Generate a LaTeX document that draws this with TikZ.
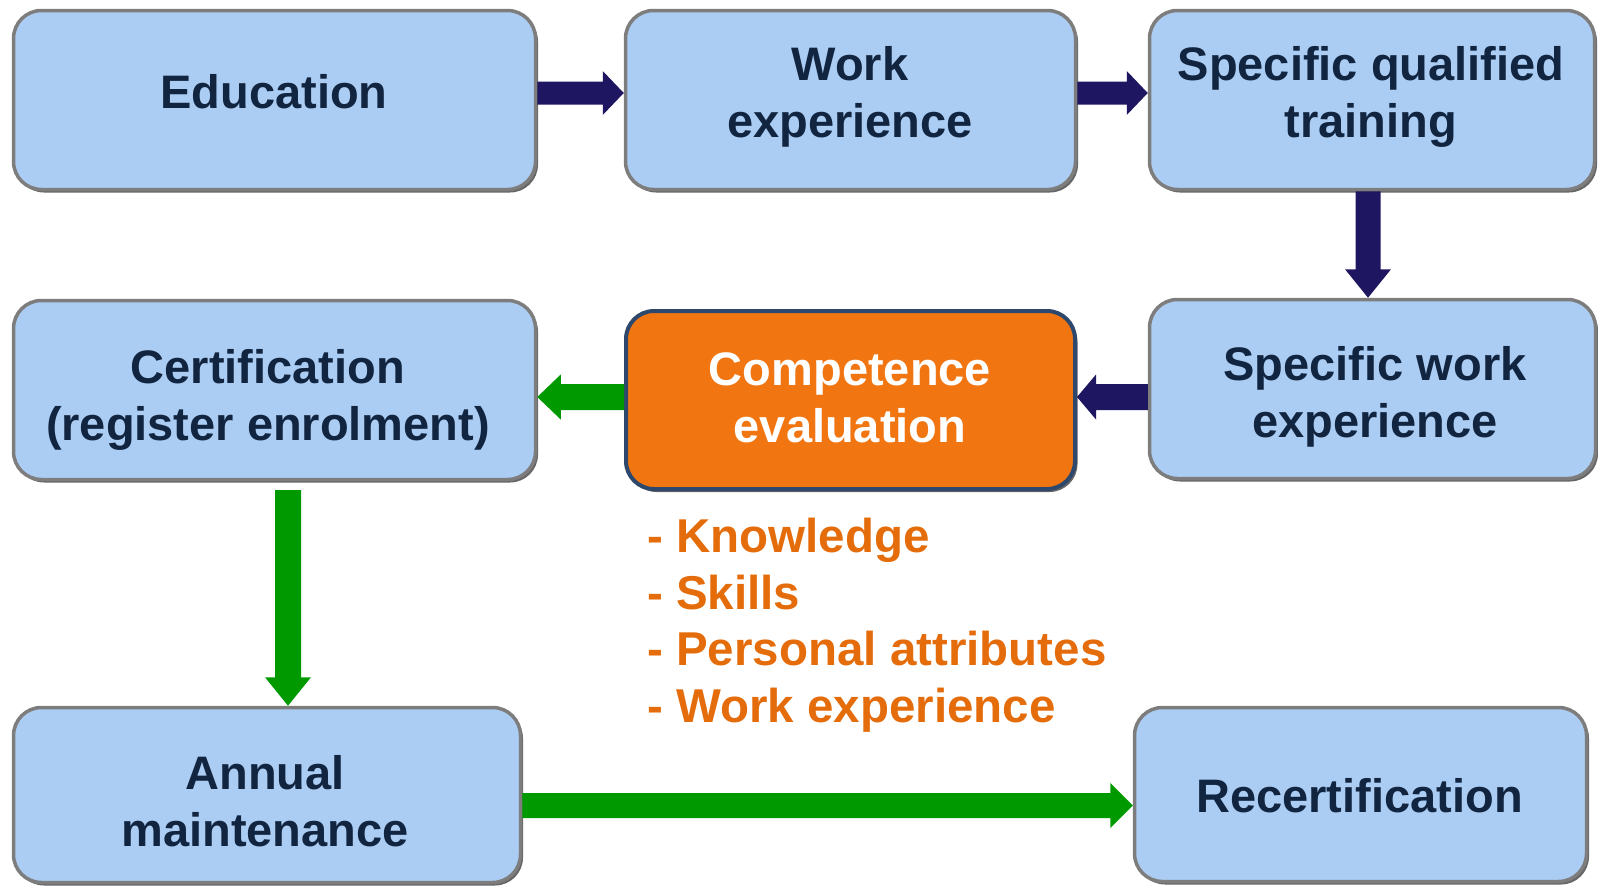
\documentclass[tikz,border=0pt]{standalone}
\usepackage{fontspec}
\setmainfont{Liberation Sans}
\usetikzlibrary{calc,shadows}
\definecolor{boxblue}{RGB}{172,205,243}
\definecolor{rimgray}{RGB}{125,125,125}
\definecolor{txtnavy}{RGB}{17,37,64}
\definecolor{arrnavy}{RGB}{30,22,96}
\definecolor{arrgreen}{RGB}{0,153,0}
\definecolor{compfill}{RGB}{241,118,18}
\definecolor{compedge}{RGB}{45,72,108}
\definecolor{listorange}{RGB}{228,108,10}

% #1 start, #2 end, #3 colour, #4 half shaft, #5 half head, #6 head length
\newcommand\blockarrow[6]{%
  \coordinate (bah) at ($(#2)!#6!(#1)$);
  \fill[#3] ($(#1)!#4!90:(#2)$) -- ($(bah)!#4!90:(#2)$) -- ($(bah)!#5!90:(#2)$)
    -- (#2) -- ($(bah)!#5!-90:(#2)$) -- ($(bah)!#4!-90:(#2)$) -- ($(#1)!#4!-90:(#2)$) -- cycle;
}

\begin{document}
\begin{tikzpicture}[x=1pt,y=-1pt,
  box/.style={rectangle, rounded corners=28pt, inner sep=0pt, fill=boxblue,
    draw=rimgray, line width=3.5pt,
    drop shadow={shadow xshift=2.5pt, shadow yshift=-3pt, fill=black, opacity=0.6}},
  compbox/.style={box, fill=compfill, draw=compedge, line width=4pt},
  txt/.style={font=\fontsize{47}{57}\selectfont\bfseries, text=txtnavy, align=center, inner sep=0pt},
  wtxt/.style={txt, text=white},
  listtxt/.style={font=\fontsize{47.5}{56.6}\selectfont\bfseries, text=listorange, align=left, inner sep=0pt}]
\useasboundingbox (0,0) rectangle (1598,886);
\begin{scope}
\clip (0,0) rectangle (1598,886);
% boxes
\node[box, minimum width=522pt, minimum height=179pt] (edu) at (274.5,100) {};
\node[box, minimum width=450pt, minimum height=179pt] (work) at (850.5,100) {};
\node[box, minimum width=445pt, minimum height=179pt] (sqt) at (1372,100) {};
\node[box, minimum width=522pt, minimum height=179pt] (cert) at (274.5,390) {};
\node[compbox, minimum width=449pt, minimum height=178pt] (comp) at (850.5,400) {};
\node[box, minimum width=446pt, minimum height=179pt] (swe) at (1372.5,389) {};
\node[box, minimum width=507pt, minimum height=175pt] (annual) at (267,795) {};
\node[box, minimum width=452pt, minimum height=174pt] (recert) at (1360.5,794.5) {};
% texts
\node[txt] (tedu) at (274,92) {Education};
\node[txt] (twork) at (850,97) {Work\\experience};
\node[txt] (tsqt) at (1371,97) {Specific qualified\\training};
\node[txt] (tcert) at (268,400) {Certification\\(register enrolment)};
\node[wtxt] (tcomp) at (850,397.5) {Competence\\evaluation};
\node[txt] (tswe) at (1375,396.5) {Specific work\\experience};
\node[txt] (tannual) at (265,801) {Annual\\maintenance};
\node[txt] (trecert) at (1359.5,796) {Recertification};
\node[listtxt, anchor=north west] (list) at (647,518) {- Knowledge\\- Skills\\- Personal attributes\\- Work experience};
% guide coordinates for arrow lines
\coordinate (row1) at (0,93);
\coordinate (row2) at (0,397);
\coordinate (row3) at (0,805.5);
\coordinate (colr) at (1368,0);
\coordinate (coll) at (288,0);
\coordinate (certlow) at (0,490);
% arrows
\blockarrow{edu.east |- row1}{work.west |- row1}{arrnavy}{11.5pt}{22pt}{21pt}
\blockarrow{work.east |- row1}{sqt.west |- row1}{arrnavy}{11.5pt}{22pt}{21pt}
\blockarrow{sqt.south -| colr}{swe.north -| colr}{arrnavy}{12.5pt}{23pt}{28.5pt}
\blockarrow{swe.west |- row2}{comp.east |- row2}{arrnavy}{13pt}{22.5pt}{19pt}
\blockarrow{comp.west |- row2}{cert.east |- row2}{arrgreen}{13pt}{22.5pt}{23.5pt}
\blockarrow{coll |- certlow}{annual.north -| coll}{arrgreen}{13pt}{23pt}{28.5pt}
\blockarrow{annual.east |- row3}{recert.west |- row3}{arrgreen}{12.5pt}{22.5pt}{22.5pt}
\end{scope}
\end{tikzpicture}
\end{document}
